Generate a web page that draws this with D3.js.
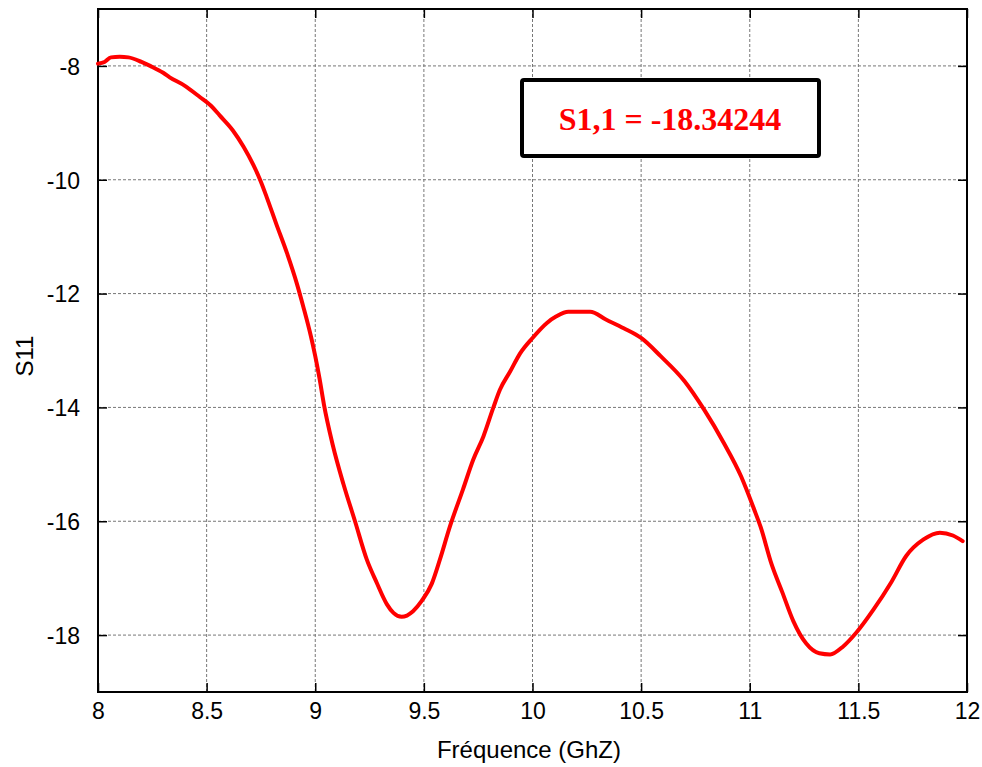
<!DOCTYPE html>
<html>
<head>
<meta charset="utf-8">
<script src="https://cdn.jsdelivr.net/npm/d3@7/dist/d3.min.js"></script>
<style>
  html, body { margin: 0; padding: 0; background: #fff; }
  svg { display: block; }
</style>
</head>
<body>
<svg id="chart" width="982" height="767"></svg>
<script>
// ---- data ----
const freq = [8.0, 8.03, 8.06, 8.1, 8.14, 8.2, 8.24, 8.3, 8.33, 8.4, 8.47, 8.52, 8.56, 8.62, 8.67, 8.715, 8.746, 8.776, 8.82, 8.87, 8.915, 8.945, 8.98, 9.0, 9.02, 9.04, 9.08, 9.13, 9.183, 9.237, 9.283, 9.33, 9.36, 9.398, 9.45, 9.49, 9.536, 9.574, 9.62, 9.68, 9.727, 9.774, 9.82, 9.85, 9.897, 9.943, 10.0, 10.065, 10.11, 10.165, 10.265, 10.34, 10.42, 10.5, 10.59, 10.70, 10.79, 10.88, 10.96, 11.02, 11.05, 11.1, 11.15, 11.2, 11.26, 11.32, 11.37, 11.43, 11.49, 11.57, 11.65, 11.72, 11.80, 11.875, 11.935, 11.98];
const s11 = [-7.96, -7.93, -7.85, -7.84, -7.85, -7.93, -8.0, -8.12, -8.2, -8.35, -8.55, -8.7, -8.87, -9.13, -9.42, -9.74, -10.0, -10.3, -10.77, -11.29, -11.82, -12.23, -12.75, -13.1, -13.5, -13.95, -14.65, -15.35, -16.0, -16.67, -17.08, -17.46, -17.61, -17.68, -17.58, -17.4, -17.1, -16.67, -16.09, -15.44, -14.92, -14.51, -14.0, -13.69, -13.37, -13.05, -12.78, -12.52, -12.4, -12.32, -12.32, -12.46, -12.61, -12.78, -13.1, -13.54, -14.04, -14.62, -15.21, -15.79, -16.1, -16.75, -17.25, -17.75, -18.15, -18.32, -18.34, -18.2, -17.96, -17.55, -17.08, -16.61, -16.32, -16.2, -16.25, -16.35];
const xTicks = [8, 8.5, 9, 9.5, 10, 10.5, 11, 11.5, 12];
const yTicks = [-18, -16, -14, -12, -10, -8];
const xTitle = "Fréquence (GhZ)";
const yTitle = "S11";
const boxLabel = "S1,1 = -18.34244";

// ---- layout ----
const W = 982, H = 767;
const m = { left: 98, right: 15, top: 9, bottom: 75 };
const iw = W - m.left - m.right, ih = H - m.top - m.bottom;

const svg = d3.select("#chart");
const g = svg.append("g").attr("transform", `translate(${m.left},${m.top})`);

const x = d3.scaleLinear().domain([8, 12]).range([0, iw]);
const y = d3.scaleLinear().domain([-19, -7]).range([ih, 0]);

// grid
g.append("g").selectAll("line").data(xTicks.slice(1, -1)).join("line")
  .attr("x1", d => x(d)).attr("x2", d => x(d)).attr("y1", 0).attr("y2", ih)
  .attr("stroke", "#777").attr("stroke-width", 1).attr("stroke-dasharray", "3,2");
g.append("g").selectAll("line").data(yTicks).join("line")
  .attr("x1", 0).attr("x2", iw).attr("y1", d => y(d)).attr("y2", d => y(d))
  .attr("stroke", "#777").attr("stroke-width", 1).attr("stroke-dasharray", "3,2");

// axes (ticks inward)
const font = "'Liberation Sans', Arial, sans-serif";
const fmt = d => String(d);
const xAxis = g.append("g").attr("transform", `translate(0,${ih})`)
  .call(d3.axisBottom(x).tickValues(xTicks).tickFormat(fmt).tickSizeInner(-9).tickSizeOuter(0).tickPadding(22));
const xTop = g.append("g")
  .call(d3.axisTop(x).tickValues(xTicks).tickFormat("").tickSizeInner(-9).tickSizeOuter(0));
const yAxis = g.append("g")
  .call(d3.axisLeft(y).tickValues(yTicks).tickFormat(fmt).tickSizeInner(-9).tickSizeOuter(0).tickPadding(18));
const yRight = g.append("g").attr("transform", `translate(${iw},0)`)
  .call(d3.axisRight(y).tickValues(yTicks).tickFormat("").tickSizeInner(-9).tickSizeOuter(0));

[xAxis, xTop, yAxis, yRight].forEach(a => {
  a.select(".domain").remove();
  a.selectAll(".tick line").attr("stroke", "#000").attr("stroke-width", 1.5);
  a.selectAll("text").attr("font-family", font).attr("font-size", 23).attr("fill", "#000");
});
xAxis.selectAll("text").attr("dy", "0.2em");
yAxis.selectAll("text").attr("dy", "0.36em");

// frame
g.append("rect").attr("x", 0).attr("y", 0).attr("width", iw).attr("height", ih)
  .attr("fill", "none").attr("stroke", "#000").attr("stroke-width", 2);

// curve
const pts = freq.map((f, i) => [f, s11[i]]);
g.append("path").datum(pts)
  .attr("fill", "none").attr("stroke", "#ff0000").attr("stroke-width", 4)
  .attr("stroke-linejoin", "round").attr("stroke-linecap", "round")
  .attr("d", d3.line().x(d => x(d[0])).y(d => y(d[1])).curve(d3.curveMonotoneX));

// titles
svg.append("text").attr("x", 529).attr("y", 758).attr("text-anchor", "middle")
  .attr("font-family", font).attr("font-size", 24).attr("fill", "#000").text(xTitle);
svg.append("text").attr("transform", "translate(33,356) rotate(-90)").attr("text-anchor", "middle")
  .attr("font-family", font).attr("font-size", 24).attr("fill", "#000").text(yTitle);

// annotation box
svg.append("rect").attr("x", 522).attr("y", 80).attr("width", 297).attr("height", 76)
  .attr("rx", 2).attr("fill", "#fff").attr("stroke", "#000").attr("stroke-width", 4);
svg.append("text").attr("x", 670).attr("y", 130).attr("text-anchor", "middle")
  .attr("font-family", "'Liberation Serif', 'Times New Roman', serif").attr("font-weight", "bold")
  .attr("font-size", 32).attr("fill", "#ff0000").text(boxLabel);
</script>
</body>
</html>
